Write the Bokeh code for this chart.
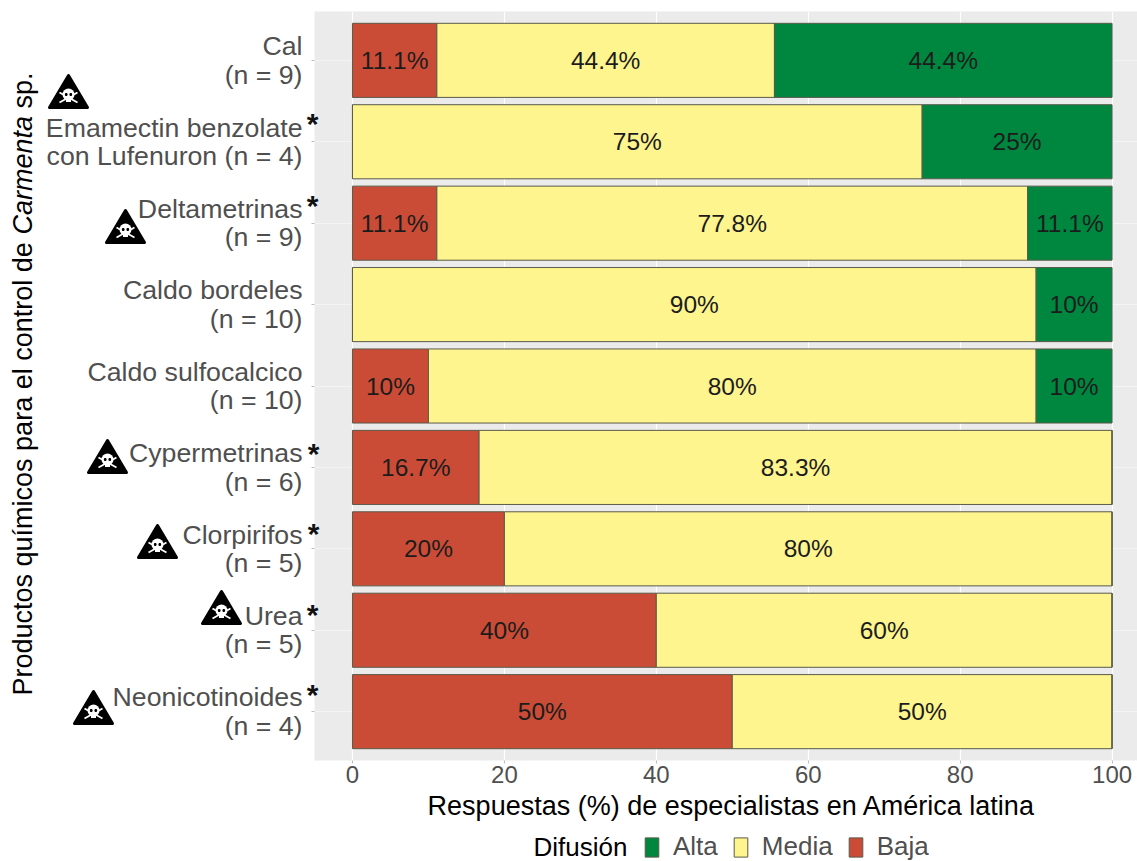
from math import cos, sin, pi
from bokeh.plotting import figure
from bokeh.layouts import column
from bokeh.embed import file_html
from bokeh.resources import INLINE
from bokeh.core.properties import value
from bokeh.models import ColumnDataSource, FactorRange, Range1d, Legend, LegendItem

categories = ["Cal\n(n = 9)", "Emamectin benzolate\ncon Lufenuron (n = 4)", "Deltametrinas\n(n = 9)",
              "Caldo bordeles\n(n = 10)", "Caldo sulfocalcico\n(n = 10)", "Cypermetrinas\n(n = 6)",
              "Clorpirifos\n(n = 5)", "Urea\n(n = 5)", "Neonicotinoides\n(n = 4)"]
baja = [11.11, 0, 11.11, 0, 10, 16.67, 20, 40, 50]
media = [44.44, 75, 77.78, 90, 80, 83.33, 80, 60, 50]
alta = [44.45, 25, 11.11, 10, 10, 0, 0, 0, 0]
baja_txt = ["11.1%", "", "11.1%", "", "10%", "16.7%", "20%", "40%", "50%"]
media_txt = ["44.4%", "75%", "77.8%", "90%", "80%", "83.3%", "80%", "60%", "50%"]
alta_txt = ["44.4%", "25%", "11.1%", "10%", "10%", "", "", "", ""]
x_ticks = [0, 20, 40, 60, 80, 100]
x_title = "Respuestas (%) de especialistas en América latina"
legend_title = "Difusión"
C_ALTA, C_MEDIA, C_BAJA = "#00873f", "#fff58f", "#cb4c36"
FONT = "Liberation Sans"
GREY = "#4f4f4f"
W, H = 1137, 861

icons = [(68, 73), (125, 208), (107, 438), (157, 523), (221, 589), (93, 689)]
stars = [(312, 123), (312, 205), (313, 453), (313, 533), (312, 614), (312, 694)]

p = figure(width=W, height=H,
           min_border_left=314, min_border_top=11, min_border_right=0, min_border_bottom=101,
           output_backend="svg", toolbar_location=None, frame_align=False,
           x_range=Range1d(-5, 103.35),
           y_range=FactorRange(factors=categories[::-1], range_padding=0.1,
                               range_padding_units="absolute", factor_padding=0))
p.outline_line_color = None
p.background_fill_color = "#ebebeb"
p.border_fill_color = "#ffffff"

src = ColumnDataSource(dict(cat=categories, baja=baja, media=media, alta=alta))
p.hbar_stack(["baja", "media", "alta"], y="cat", height=0.91, source=src,
             color=[C_BAJA, C_MEDIA, C_ALTA], line_color="#5a5a4a", line_width=1)

lx, ly, lt = [], [], []
for i, c in enumerate(categories):
    a = 0
    for v, t in zip((baja[i], media[i], alta[i]), (baja_txt[i], media_txt[i], alta_txt[i])):
        if t:
            lx.append(a + v / 2); ly.append(c); lt.append(t)
        a += v
p.text(lx, ly, lt, text_align="center", text_baseline="middle", text_color="#1c1c1c",
       text_font=value(FONT), text_font_size="24.5px")

p.xaxis.ticker = x_ticks
p.xaxis.major_label_text_font = FONT
p.xaxis.major_label_text_font_size = "24px"
p.xaxis.major_label_text_color = GREY
p.xaxis.major_label_standoff = 2
p.xaxis.axis_line_color = None
p.xaxis.major_tick_line_color = "#bdbdbd"
p.xaxis.major_tick_out = 3
p.xaxis.major_tick_in = 0
p.xaxis.minor_tick_line_color = None

p.yaxis.axis_line_color = None
p.yaxis.major_tick_line_color = "#bdbdbd"
p.yaxis.major_tick_out = 3
p.yaxis.major_tick_in = 0
p.yaxis.major_label_text_font = FONT
p.yaxis.major_label_text_font_size = "26.7px"
p.yaxis.major_label_text_color = GREY
p.yaxis.major_label_text_line_height = 0.95
p.yaxis.major_label_standoff = 9

p.xgrid.grid_line_color = "#ffffff"
p.xgrid.grid_line_width = 1.2
p.xgrid.minor_grid_line_color = "#ffffff"
p.xgrid.minor_grid_line_width = 0.7
p.ygrid.grid_line_color = "#f4f4f4"
p.ygrid.grid_line_width = 1

# transparent overlay figure, same size, for what lies outside the plot frame (canvas pixels)
q = figure(width=W, height=H, min_border=0, output_backend="svg", toolbar_location=None,
           frame_align=False,
           x_range=Range1d(0, W), y_range=Range1d(H, 0), x_axis_location=None, y_axis_location=None)
q.grid.visible = False
q.outline_line_color = None
q.background_fill_alpha = 0
q.border_fill_alpha = 0
q.margin = (-H, 0, 0, 0)

def txt(x, y, s, size, color="#000000", align="center", base="middle", style="normal", angle=0):
    q.text([x], [y], [s], text_font=value(FONT), text_font_size=size, text_color=color,
           text_align=align, text_baseline=base, text_font_style=style, angle=angle)

txt(731, 805, x_title, "27px")
txt(533, 846, legend_title, "26px", align="left")

for s, sty, py in [("Productos químicos para el control de", "normal", 695),
                   ("Carmenta", "italic", 234), ("sp.", "normal", 108)]:
    txt(22, py, s, "27px", align="left", base="alphabetic", style=sty, angle=pi / 2)

for sx, sy in stars:
    txt(sx, sy, "*", "30px", color="#111111", base="alphabetic", style="bold")

def poly(pts, color, lw=0):
    q.patch([a for a, _ in pts], [b for _, b in pts], fill_color=color,
            line_color=color, line_width=lw, line_alpha=1 if lw else 0, line_join="round")

def disc(cx, cy, rx, ry, color):
    poly([(cx + rx * cos(k * pi / 8), cy + ry * sin(k * pi / 8)) for k in range(16)], color)

def bar(x0, y0, x1, y1, w, color):
    dx, dy = x1 - x0, y1 - y0
    n = (dx * dx + dy * dy) ** 0.5
    ox, oy = -dy / n * w / 2, dx / n * w / 2
    poly([(x0 + ox, y0 + oy), (x1 + ox, y1 + oy), (x1 - ox, y1 - oy), (x0 - ox, y0 - oy)], color)

for cx, top in icons:
    poly([(cx, top + 2), (cx + 19, top + 34), (cx - 19, top + 34)], "#000000", 3)
    bar(cx - 9, top + 19, cx + 9, top + 29, 1.8, "#ffffff")
    bar(cx - 9, top + 29, cx + 9, top + 19, 1.8, "#ffffff")
    disc(cx, top + 21, 6, 6, "#ffffff")
    bar(cx - 2.5, top + 26.5, cx + 2.5, top + 26.5, 4, "#ffffff")
    disc(cx - 2.3, top + 21, 1.4, 1.6, "#000000")
    disc(cx + 2.3, top + 21, 1.4, 1.6, "#000000")

def key(color):
    # off-range placeholder: it only gives the legend its swatch
    return q.quad(left=[-90], right=[-80], top=[-90], bottom=[-80], fill_color=color, line_color="#5a5a4a")

legend = Legend(items=[LegendItem(label=value("Alta"), renderers=[key(C_ALTA)]),
                       LegendItem(label=value("Media"), renderers=[key(C_MEDIA)]),
                       LegendItem(label=value("Baja"), renderers=[key(C_BAJA)])],
                orientation="horizontal", location=(643, -1),
                label_text_font=FONT, label_text_font_size="26px", label_text_color=GREY,
                glyph_width=17, glyph_height=24, label_standoff=13, spacing=14,
                padding=0, margin=0, border_line_color=None, background_fill_alpha=0)
q.add_layout(legend)

root = column(p, q, spacing=0)
open("out.html", "w").write(file_html(root, INLINE))
